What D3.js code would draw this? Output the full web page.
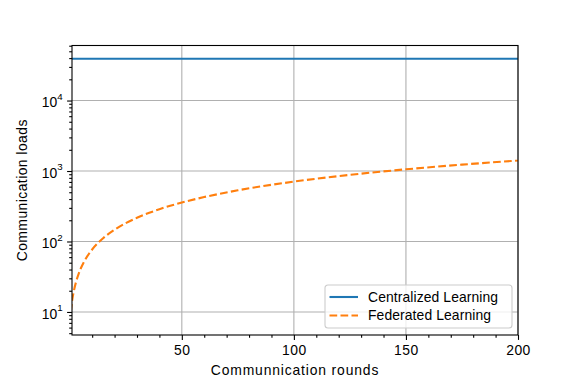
<!DOCTYPE html>
<html>
<head>
<meta charset="utf-8">
<script src="https://cdn.jsdelivr.net/npm/d3@7"></script>
<style>
  body { margin: 0; background: #fff; }
  text { font-family: "Liberation Sans", Arial, sans-serif; fill: #000; }
</style>
</head>
<body>
<div id="graf"></div>
<script>
// datos
const rondas = [0, 1, 2, 3, 4, 5, 7, 10, 15, 20, 30, 40, 50, 60, 75, 100, 125, 150, 175, 200]
const cargaFederada = [7, 14, 21, 28, 35, 42, 56, 77, 112, 147, 217, 287, 357, 427, 532, 707, 882, 1057, 1232, 1407]
const rondasCentral = [0, 200]
const cargaCentral = [39200, 39200]
const ticksX = [50, 100, 150, 200]
const ticksY = [10, 100, 1000, 10000]
const series = ['Centralized Learning', 'Federated Learning']

const anchoTotal = 576
const altoTotal = 384
const margin = { top: 45.5, bottom: 49, left: 72, right: 58 }
const ancho = anchoTotal - margin.left - margin.right
const alto = altoTotal - margin.top - margin.bottom
const fs = 13.9

const svg = d3.select('#graf')
  .append('svg')
  .attr('width', anchoTotal)
  .attr('height', altoTotal)

const g = svg.append('g')
  .attr('transform', `translate(${margin.left}, ${margin.top})`)

const x = d3.scaleLinear().domain([1, 200]).range([0, ancho])
const y = d3.scaleLog().domain([Math.pow(10, 0.673), Math.pow(10, 4.781)]).range([alto, 0])

svg.append('defs').append('clipPath').attr('id', 'clip')
  .append('rect').attr('width', ancho).attr('height', alto)

// grilla
g.append('g').selectAll('line').data(ticksX).join('line')
  .attr('x1', d => x(d)).attr('x2', d => x(d))
  .attr('y1', 0).attr('y2', alto)
  .attr('stroke', '#b0b0b0').attr('stroke-width', 1.1)
g.append('g').selectAll('line').data(ticksY).join('line')
  .attr('x1', 0).attr('x2', ancho)
  .attr('y1', d => y(d)).attr('y2', d => y(d))
  .attr('stroke', '#b0b0b0').attr('stroke-width', 1.1)

// lineas
const linea = d3.line().x(d => x(d[0])).y(d => y(d[1]))
const plot = g.append('g').attr('clip-path', 'url(#clip)')
plot.append('path')
  .datum(rondasCentral.map((r, i) => [r, cargaCentral[i]]))
  .attr('d', linea)
  .attr('fill', 'none').attr('stroke', '#1f77b4').attr('stroke-width', 2.1)
plot.append('path')
  .datum(rondas.map((r, i) => [r, cargaFederada[i]]))
  .attr('d', linea.curve(d3.curveMonotoneX))
  .attr('fill', 'none').attr('stroke', '#ff7f0e').attr('stroke-width', 2.1)
  .attr('stroke-dasharray', '7.7,3.3')

// ejes
const minorX = d3.range(10, 200, 10).filter(d => !ticksX.includes(d))
const minorY = []
for (let e = 0; e <= 4; e++) {
  for (let k = 2; k <= 9; k++) {
    const v = k * Math.pow(10, e)
    if (v >= y.domain()[0] && v <= y.domain()[1]) minorY.push(v)
  }
}

const xAxisGroup = g.append('g').attr('transform', `translate(0, ${alto})`)
xAxisGroup.call(d3.axisBottom(x).tickValues(ticksX).tickSize(4.9).tickPadding(4.5).tickFormat(d3.format('d')))
g.append('g').attr('transform', `translate(0, ${alto})`)
  .call(d3.axisBottom(x).tickValues(minorX).tickSize(2.8).tickFormat(''))
  .select('.domain').remove()

const yAxisGroup = g.append('g')
yAxisGroup.call(d3.axisLeft(y).tickValues(ticksY).tickSize(4.9).tickPadding(4.5))
g.append('g')
  .call(d3.axisLeft(y).tickValues(minorY).tickSize(2.8).tickFormat(''))
  .select('.domain').remove()

g.selectAll('.tick line').attr('stroke', '#000').attr('stroke-width', 1.1)
g.selectAll('.domain').remove()
xAxisGroup.selectAll('text').attr('font-size', fs).attr('dy', '0.75em').attr('letter-spacing', 0.5)

yAxisGroup.selectAll('.tick text')
  .attr('font-size', fs)
  .attr('dy', '0.45em')
  .each(function (d) {
    const t = d3.select(this).text('')
    t.append('tspan').text('10')
    t.append('tspan').attr('font-size', fs * 0.7).attr('dy', '-0.75em').text(Math.round(Math.log10(d)))
  })

// marco
g.append('rect')
  .attr('width', ancho).attr('height', alto)
  .attr('fill', 'none').attr('stroke', '#000').attr('stroke-width', 1.1)

// titulos de ejes
g.append('text')
  .attr('x', ancho / 2).attr('y', alto + 40)
  .attr('text-anchor', 'middle').attr('font-size', fs)
  .attr('letter-spacing', 0.85)
  .text('Communnication rounds')
g.append('text')
  .attr('transform', `translate(${-45}, ${alto / 2}) rotate(-90)`)
  .attr('text-anchor', 'middle').attr('font-size', fs)
  .attr('letter-spacing', 0.45)
  .text('Communication loads')

// leyenda
const leyenda = g.append('g').attr('transform', `translate(${325 - margin.left}, ${285 - margin.top})`)
leyenda.append('rect')
  .attr('width', 187).attr('height', 43).attr('rx', 3)
  .attr('fill', '#fff').attr('fill-opacity', 0.8)
  .attr('stroke', '#ccc').attr('stroke-width', 1.1)
const items = leyenda.selectAll('g.item').data(series).join('g')
  .attr('transform', (d, i) => `translate(0, ${12 + i * 18.5})`)
items.append('line')
  .attr('x1', 4.5).attr('x2', 33)
  .attr('stroke', (d, i) => i === 0 ? '#1f77b4' : '#ff7f0e')
  .attr('stroke-width', 2.1)
  .attr('stroke-dasharray', (d, i) => i === 0 ? null : '7.7,3.3')
items.append('text')
  .attr('x', 43).attr('dy', '0.35em').attr('font-size', fs)
  .attr('letter-spacing', 0.1)
  .text(d => d)
</script>
</body>
</html>
